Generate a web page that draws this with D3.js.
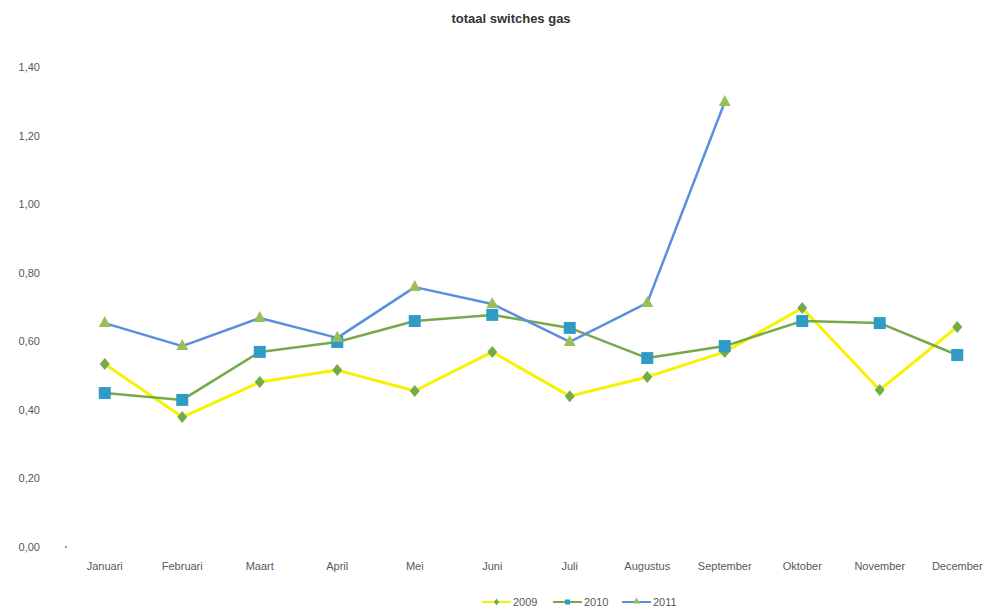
<!DOCTYPE html>
<html>
<head>
<meta charset="utf-8">
<script src="https://cdn.jsdelivr.net/npm/d3@7"></script>
<style>
  body { margin: 0; background: #fff; }
  text { font-family: "Liberation Sans", Arial, sans-serif; }
</style>
</head>
<body>
<div id="chart"></div>
<script>
var months = ["Januari", "Februari", "Maart", "April", "Mei", "Juni", "Juli", "Augustus", "September", "Oktober", "November", "December"];
var yTicks = [0, 0.2, 0.4, 0.6, 0.8, 1.0, 1.2, 1.4];
var years = ["2009", "2010", "2011"];

var values2009 = [0.534, 0.379, 0.481, 0.516, 0.455, 0.569, 0.440, 0.496, 0.569, 0.697, 0.458, 0.642];
var values2010 = [0.449, 0.429, 0.569, 0.598, 0.659, 0.677, 0.639, 0.551, 0.586, 0.659, 0.653, 0.560];
var values2011 = [0.653, 0.586, 0.668, 0.610, 0.758, 0.709, 0.598, 0.712, 1.298];

function whole(){
    var width = 989, height = 607;
    var left = 66, right = 996, top = 67, bottom = 547;

    var svg = d3.select("#chart")
        .append("svg")
        .attr("width", width)
        .attr("height", height)

    var x = d3.scaleBand()
        .domain(months)
        .range([left, right])

    var y = d3.scaleLinear()
        .domain([0, 1.4])
        .range([bottom, top])

    var fmt = function(d){ return d3.format(".2f")(d).replace(".", ",") }

    // title
    svg.append("text")
        .attr("x", 511)
        .attr("y", 23)
        .attr("text-anchor", "middle")
        .attr("font-size", "13px")
        .attr("font-weight", "bold")
        .attr("fill", "#333")
        .text("totaal switches gas")

    // y axis, labels only
    var yAxis = d3.axisLeft(y)
        .tickValues(yTicks)
        .tickFormat(fmt)
        .tickSize(0)
        .tickPadding(26)

    var gy = svg.append("g")
        .attr("transform", "translate(" + left + ",0)")
        .call(yAxis)
    gy.select(".domain").remove()
    gy.selectAll("text")
        .attr("font-size", "11px")
        .attr("fill", "#595959")
        .style("font-family", "'Liberation Sans', Arial, sans-serif")

    // x axis, labels only
    var xAxis = d3.axisBottom(x)
        .tickSize(0)
        .tickPadding(15)

    var gx = svg.append("g")
        .attr("transform", "translate(0," + bottom + ")")
        .call(xAxis)
    gx.select(".domain").remove()
    gx.selectAll("text")
        .attr("font-size", "11px")
        .attr("fill", "#595959")
        .style("font-family", "'Liberation Sans', Arial, sans-serif")

    // little origin mark
    svg.append("rect")
        .attr("x", left - 1)
        .attr("y", y(0) - 1)
        .attr("width", 2)
        .attr("height", 2)
        .attr("fill", "#999")

    var series = [
        {name: "2009", values: values2009, line: "#f7f200", lw: 3, marker: "diamond", mfill: "#72ab48", msize: 10},
        {name: "2010", values: values2010, line: "#77a94c", lw: 2.5, marker: "square", mfill: "#2f9bc7", msize: 12},
        {name: "2011", values: values2011, line: "#5a8fdd", lw: 2.5, marker: "triangle", mfill: "#9bbf58", msize: 10}
    ];

    var line = d3.line()
        .x(function(d, i){ return x(months[i]) + x.bandwidth() / 2 })
        .y(function(d){ return y(d) })

    function markerPath(type, s){
        var h = s / 2;
        if(type == "diamond"){
            return "M0," + (-h - 1) + "L" + h + ",0L0," + (h + 1) + "L" + (-h) + ",0Z"
        }
        if(type == "square"){
            return "M" + (-h) + "," + (-h) + "h" + s + "v" + s + "h" + (-s) + "Z"
        }
        return "M0," + (-h - 2) + "L" + (h + 1) + "," + (h - 1) + "L" + (-h - 1) + "," + (h - 1) + "Z"
    }

    series.forEach(function(s){
        svg.append("path")
            .attr("class", "line_" + s.name)
            .attr("d", line(s.values))
            .attr("fill", "none")
            .attr("stroke", s.line)
            .attr("stroke-width", s.lw)
            .attr("stroke-linejoin", "round")
    })

    series.forEach(function(s){
        svg.append("g")
            .selectAll(".m")
            .data(s.values)
            .enter()
            .append("path")
            .attr("transform", function(d, i){
                return "translate(" + (x(months[i]) + x.bandwidth() / 2) + "," + y(d) + ")"
            })
            .attr("d", markerPath(s.marker, s.msize))
            .attr("fill", s.mfill)
    })

    // legend
    var legendX = [482, 553, 622];
    var leg = svg.append("g")
        .selectAll(".legend")
        .data(series)
        .enter()
        .append("g")
        .attr("transform", function(d, i){ return "translate(" + legendX[i] + ",602)" })

    leg.append("line")
        .attr("x1", 0)
        .attr("x2", 29)
        .attr("stroke", function(d){ return d.line })
        .attr("stroke-width", 2)
    leg.append("path")
        .attr("transform", "translate(14.5,0)")
        .attr("d", function(d){ return markerPath(d.marker, 5) })
        .attr("fill", function(d){ return d.mfill })
    leg.append("text")
        .attr("x", 31)
        .attr("y", 4)
        .attr("font-size", "11px")
        .attr("fill", "#595959")
        .text(function(d){ return d.name })
}
whole();
</script>
</body>
</html>
